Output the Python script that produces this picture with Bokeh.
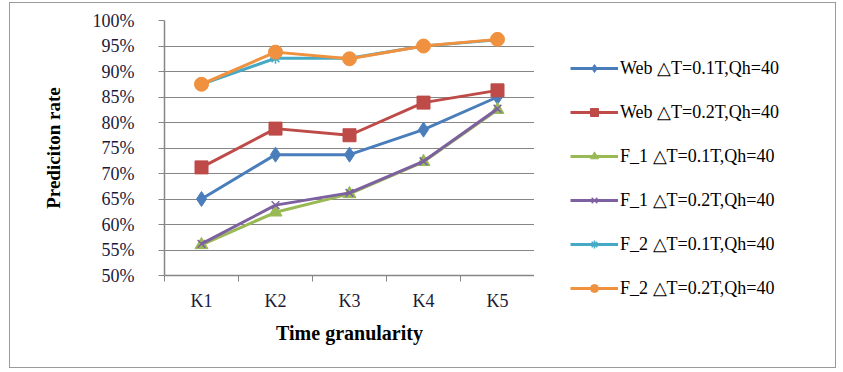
from bokeh.plotting import figure
from bokeh.layouts import row
from bokeh.models import Range1d, FixedTicker, PrintfTickFormatter, Legend, LegendItem
from bokeh.embed import file_html
from bokeh.resources import INLINE

# ---- data ----
categories = ["K1", "K2", "K3", "K4", "K5"]
web_01 = [65.0, 73.7, 73.7, 78.6, 85.0]
web_02 = [71.2, 78.8, 77.5, 83.9, 86.3]
f1_01 = [56.0, 62.4, 66.0, 72.3, 82.5]
f1_02 = [56.2, 63.8, 66.2, 72.4, 82.7]
f2_01 = [87.5, 92.6, 92.6, 95.0, 96.2]
f2_02 = [87.5, 93.8, 92.5, 95.0, 96.3]
series_names = [
    "Web \u25b3T=0.1T,Qh=40",
    "Web \u25b3T=0.2T,Qh=40",
    "F_1 \u25b3T=0.1T,Qh=40",
    "F_1 \u25b3T=0.2T,Qh=40",
    "F_2 \u25b3T=0.1T,Qh=40",
    "F_2 \u25b3T=0.2T,Qh=40",
]
y_ticks = [50, 55, 60, 65, 70, 75, 80, 85, 90, 95, 100]

series_values = [web_01, web_02, f1_01, f1_02, f2_01, f2_02]
colors = ["#4A7EBB", "#BE4B48", "#98B954", "#7D60A0", "#46AAC5", "#F0913F"]
markers = ["diamond", "square", "triangle", "x", "asterisk", "circle"]
sizes = [15, 13, 13, 11, 11, 14]

FONT = "Liberation Serif"
GRID = "#868686"

xs = [i + 0.5 for i in range(len(categories))]

p = figure(width=524, height=364, output_backend="svg", toolbar_location=None,
           x_range=Range1d(0, len(categories)), y_range=Range1d(50, 100),
           min_border_left=154, min_border_right=0, min_border_top=17,
           min_border_bottom=92)
p.outline_line_color = None
p.background_fill_color = "white"
p.border_fill_color = "white"

# legend panel (separate figure, series drawn out of view only for legend icons)
lg = figure(width=301, height=364, output_backend="svg", toolbar_location=None,
            x_range=Range1d(-10, -9), y_range=Range1d(-10, -9),
            x_axis_location=None, y_axis_location=None,
            min_border_left=0, min_border_right=0, min_border_top=0, min_border_bottom=0)
lg.outline_line_color = None
lg.grid.grid_line_color = None
lg.background_fill_color = "white"
lg.border_fill_color = "white"
try:
    p.frame_align = False
    lg.frame_align = False
except Exception:
    pass

items = []
for name, vals, c, m, s in zip(series_names, series_values, colors, markers, sizes):
    lw = 1.5 if m in ("x", "asterisk") else 1
    p.line(xs, vals, line_color=c, line_width=3)
    p.scatter(xs, vals, marker=m, size=s, fill_color=c, line_color=c, line_width=lw)
    l1 = lg.line(xs, vals, line_color=c, line_width=3)
    l2 = lg.scatter(xs, vals, marker=m, size=s - 1, fill_color=c, line_color=c, line_width=lw)
    items.append(LegendItem(label=name, renderers=[l1, l2]))

# x axis
p.xaxis.ticker = FixedTicker(ticks=xs, minor_ticks=[i for i in range(len(categories) + 1)])
p.xaxis.major_label_overrides = {x: c for x, c in zip(xs, categories)}
p.xaxis.major_tick_line_color = None
p.xaxis.minor_tick_line_color = GRID
p.xaxis.minor_tick_out = 6
p.xaxis.minor_tick_in = 0
p.xaxis.axis_line_color = GRID
p.xaxis.axis_line_width = 1.5
p.xaxis.major_label_text_font = FONT
p.xaxis.major_label_text_font_size = "18px"
p.xaxis.major_label_text_color = "#1a1a3a"
p.xaxis.major_label_standoff = 9
p.xaxis.axis_label = "Time granularity"
p.xaxis.axis_label_text_font = FONT
p.xaxis.axis_label_text_font_style = "bold"
p.xaxis.axis_label_text_font_size = "20px"
p.xaxis.axis_label_text_color = "black"
p.xaxis.axis_label_standoff = 8
p.xgrid.grid_line_color = None

# y axis
p.yaxis.ticker = FixedTicker(ticks=y_ticks)
p.yaxis.formatter = PrintfTickFormatter(format="%d%%")
p.yaxis.major_tick_line_color = GRID
p.yaxis.major_tick_out = 6
p.yaxis.major_tick_in = 0
p.yaxis.minor_tick_line_color = None
p.yaxis.axis_line_color = GRID
p.yaxis.axis_line_width = 1.5
p.yaxis.major_label_text_font = FONT
p.yaxis.major_label_text_font_size = "18px"
p.yaxis.major_label_text_color = "#1a1a3a"
p.yaxis.major_label_standoff = 24
p.yaxis.axis_label = "Prediciton rate"
p.yaxis.axis_label_text_font = FONT
p.yaxis.axis_label_text_font_style = "bold"
p.yaxis.axis_label_text_font_size = "19px"
p.yaxis.axis_label_text_color = "black"
p.yaxis.axis_label_standoff = 26
p.ygrid.grid_line_color = GRID
p.ygrid.grid_line_width = 1.2
p.ygrid.ticker = FixedTicker(ticks=y_ticks)

legend = Legend(items=items, location=(36, 68))
legend.border_line_color = None
legend.background_fill_alpha = 0
legend.glyph_width = 48
legend.glyph_height = 20
legend.label_height = 20
legend.spacing = 22
legend.padding = 0
legend.margin = 0
legend.label_standoff = 2
legend.label_text_font = FONT
legend.label_text_font_size = "18px"
legend.label_text_color = "black"
lg.add_layout(legend)

layout = row(p, lg, spacing=0,
             styles={"border": "1px solid #9a9a9a", "margin-left": "9px", "margin-top": "2px"})

open("out.html", "w").write(file_html(layout, INLINE))
